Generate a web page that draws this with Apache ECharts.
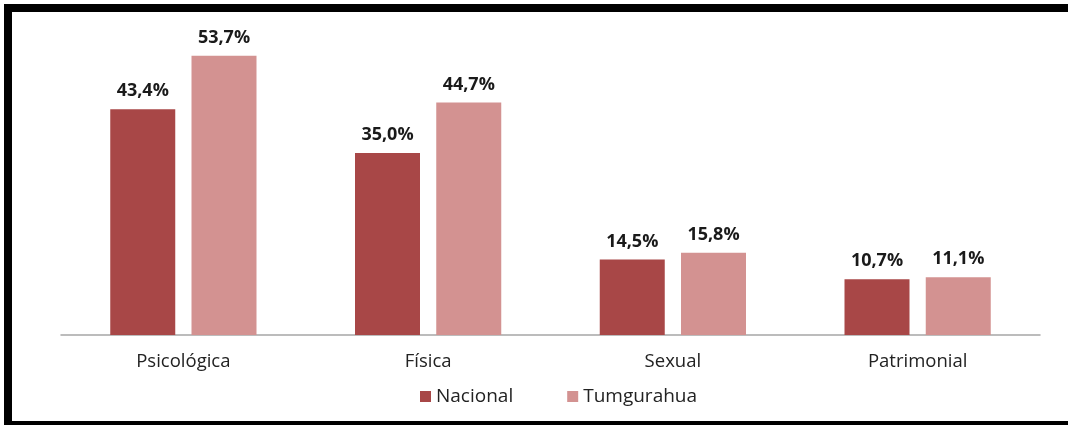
<!DOCTYPE html>
<html>
<head>
<meta charset="utf-8">
<script src="https://cdn.jsdelivr.net/npm/echarts@6/dist/echarts.min.js"></script>
<style>
    html, body { margin: 0; padding: 0; background: #fff; }
    #wrap { position: relative; width: 1068px; height: 425px; overflow: hidden; }
    #chart { position: absolute; left: 0; top: 0; width: 1068px; height: 425px; }
    .edge { position: absolute; background: #000; }
</style>
</head>
<body>
<div id="wrap">
    <div id="chart"></div>
    <div class="edge" style="left:4px;top:4px;width:1064px;height:8px;"></div>
    <div class="edge" style="left:4px;top:4px;width:8px;height:421px;"></div>
    <div class="edge" style="left:4px;top:421px;width:1064px;height:4px;"></div>
</div>
<script>
const categories = ['Psicológica', 'Física', 'Sexual', 'Patrimonial'];
const nacional = [43.4, 35.0, 14.5, 10.7];
const tumgurahua = [53.7, 44.7, 15.8, 11.1];

const myEcharts = echarts.init(document.getElementById('chart'));

const labelStyle = {
    show: true,
    position: 'top',
    distance: 9,
    color: '#1a1a1a',
    fontFamily: 'Open Sans',
    fontWeight: 'bold',
    fontSize: 18,
    formatter: p => p.value.toFixed(1).replace('.', ',') + '%'
};

const option = {
    animation: false,
    legend: {
        bottom: 14,
        left: 415,
        itemWidth: 11,
        itemHeight: 11,
        itemGap: 54,
        icon: 'rect',
        textStyle: { fontFamily: 'Open Sans', fontSize: 19, color: '#222' },
        data: ['Nacional', 'Tumgurahua']
    },
    grid: { left: 61, right: 28, top: 23, bottom: 90 },
    xAxis: {
        type: 'category',
        data: categories,
        axisTick: { show: false },
        axisLine: { lineStyle: { color: '#a6a6a6', width: 1.5 } },
        axisLabel: { fontFamily: 'Open Sans', fontSize: 18.5, color: '#222', margin: 17 }
    },
    yAxis: {
        type: 'value',
        min: 0,
        max: 60,
        show: false
    },
    series: [
        {
            name: 'Nacional',
            type: 'bar',
            data: nacional,
            barWidth: 65,
            barGap: '25%',
            itemStyle: { color: '#a84747' },
            label: labelStyle
        },
        {
            name: 'Tumgurahua',
            type: 'bar',
            data: tumgurahua,
            barWidth: 65,
            itemStyle: { color: '#d39291' },
            label: labelStyle
        }
    ]
};
myEcharts.setOption(option);
</script>
</body>
</html>
